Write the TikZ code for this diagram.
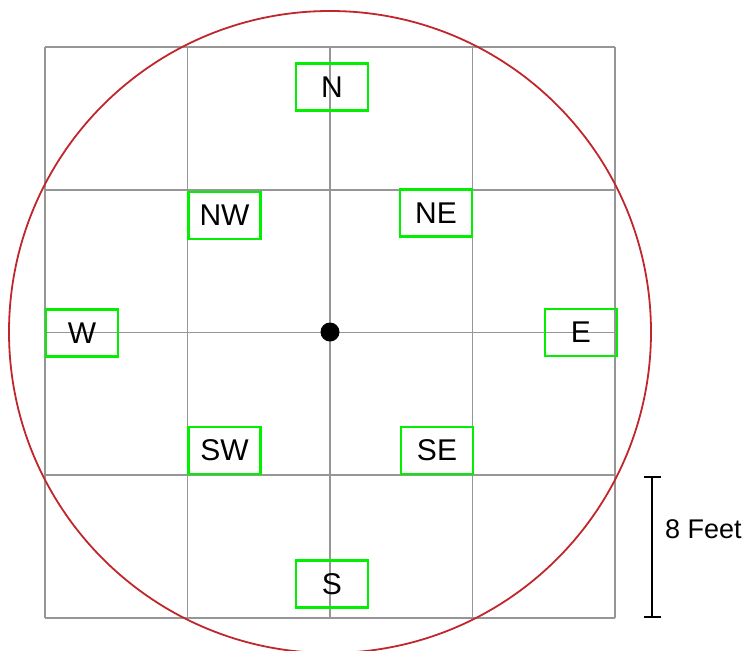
\documentclass[tikz,border=0pt]{standalone}
\usepackage{fontspec}
\setmainfont{Liberation Sans}
\usetikzlibrary{positioning, arrows.meta}
\definecolor{gcolor}{HTML}{969696}
\definecolor{rcolor}{HTML}{C0262C}
\definecolor{bcolor}{HTML}{00F000}

\begin{document}
\begin{tikzpicture}[x=1pt, y=-1pt,
    gridline/.style={draw=gcolor, line width=1.7pt},
    ring/.style={draw=rcolor, line width=1.8pt},
    dir/.style={rectangle, draw=bcolor, line width=2.3pt, minimum width=72pt, minimum height=47pt, inner sep=0pt, font=\fontsize{30}{30}\selectfont},
    bar/.style={{Bar[width=17pt]}-{Bar[width=17pt]}, line width=1.7pt},
    lbl/.style={font=\fontsize{27}{27}\selectfont, inner sep=0pt, anchor=west},
  ]
    \useasboundingbox (0,0) rectangle (745,651);
    % grid
    \foreach \k in {0,...,4} {
      \draw[gridline] (45+142.5*\k,47) -- (45+142.5*\k,618);
      \draw[gridline] (45,47+142.75*\k) -- (615,47+142.75*\k);
    }
    \draw[ring] (330,332) circle[radius=321pt];
    \node[circle, fill=black, inner sep=0pt, minimum size=19pt] (centre) at (330,332) {};

    \node[dir] (n) at (332,87) {N};
    \node[dir] (nw) at (224.5,215.5) {NW};
    \node[dir] (ne) at (436,213) {NE};
    \node[dir] (w) at (82,333) {W};
    \node[dir] (e) at (581,332.5) {E};
    \node[dir] (sw) at (224.5,450.5) {SW};
    \node[dir] (se) at (437,450.5) {SE};
    \node[dir] (s) at (332,584) {S};

    % scale
    \coordinate (bartop) at (652,476);
    \coordinate (barbot) at (652,618);
    \draw[bar] (bartop) -- (barbot);
    \node[lbl] (scale) at (665,529) {8 Feet};
  \end{tikzpicture}
\end{document}
